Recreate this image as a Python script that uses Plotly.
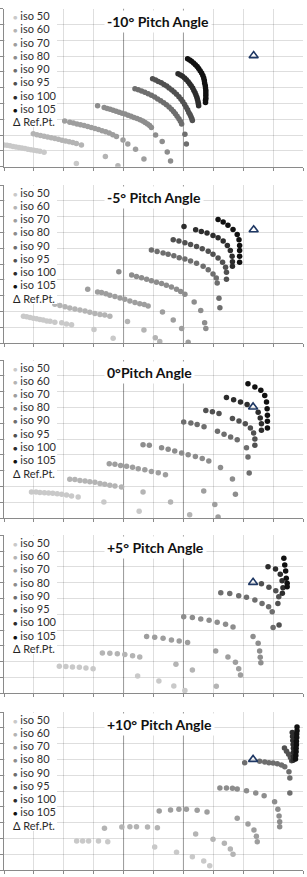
import plotly.graph_objects as go

# ---------------- chart values (grid units, 0..10 on both axes) ----------------
series_names = ["iso 50", "iso 60", "iso 70", "iso 80", "iso 90", "iso 95", "iso 100", "iso 105"]
panel_titles = ["-10° Pitch Angle", "-5° Pitch Angle", "0°Pitch Angle", "+5° Pitch Angle", "+10° Pitch Angle"]

# ---- -10° pitch ----
m10_iso50_x = [0.00, 0.10, 0.20, 0.30, 0.40, 0.50, 0.60, 0.70, 0.80, 0.90, 1.00, 1.10, 1.20, 1.34, 2.42]
m10_iso50_y = [1.38, 1.35, 1.32, 1.28, 1.25, 1.22, 1.18, 1.15, 1.11, 1.08, 1.04, 1.01, 0.97, 0.91, 0.21]
m10_iso60_x = [0.98, 1.10, 1.22, 1.34, 1.46, 1.58, 1.70, 1.82, 1.94, 2.06, 2.18, 2.30, 2.42, 2.59, 3.39, 3.81]
m10_iso60_y = [2.08, 2.03, 1.98, 1.93, 1.88, 1.83, 1.78, 1.73, 1.68, 1.63, 1.58, 1.53, 1.47, 1.38, 0.64, 0.06]
m10_iso70_x = [2.03, 2.20, 2.32, 2.44, 2.56, 2.68, 2.80, 2.92, 3.04, 3.16, 3.28, 3.40, 3.52, 3.64, 3.76, 3.98, 4.14, 4.40, 4.68]
m10_iso70_y = [2.90, 2.82, 2.77, 2.71, 2.65, 2.60, 2.54, 2.48, 2.42, 2.35, 2.28, 2.21, 2.13, 2.03, 1.91, 1.69, 1.44, 1.10, 0.49]
m10_iso80_x = [3.13, 3.35, 3.45, 3.55, 3.65, 3.75, 3.85, 3.95, 4.05, 4.15, 4.25, 4.35, 4.45, 4.55, 4.64, 4.72, 4.80, 4.87, 4.93, 5.07, 5.29, 5.46, 5.57]
m10_iso80_y = [3.86, 3.75, 3.69, 3.63, 3.57, 3.51, 3.45, 3.39, 3.33, 3.26, 3.19, 3.12, 3.05, 2.97, 2.89, 2.80, 2.70, 2.60, 2.48, 2.01, 1.59, 0.93, 0.36]
m10_iso90_x = [4.38, 4.49, 4.60, 4.71, 4.82, 4.93, 5.04, 5.14, 5.24, 5.34, 5.43, 5.52, 5.60, 5.67, 5.73, 5.79, 5.85, 5.90, 5.94, 6.05, 6.10]
m10_iso90_y = [4.94, 4.87, 4.79, 4.71, 4.62, 4.52, 4.41, 4.29, 4.17, 4.05, 3.92, 3.78, 3.64, 3.50, 3.35, 3.19, 3.03, 2.87, 2.71, 2.06, 1.44]
m10_iso95_x = [4.97, 5.07, 5.16, 5.26, 5.35, 5.44, 5.52, 5.61, 5.69, 5.77, 5.85, 5.92, 5.98, 6.04, 6.09, 6.14, 6.18, 6.22, 6.25, 6.28, 6.30]
m10_iso95_y = [5.57, 5.49, 5.40, 5.31, 5.21, 5.10, 4.98, 4.85, 4.72, 4.58, 4.43, 4.27, 4.11, 3.94, 3.77, 3.60, 3.43, 3.30, 3.18, 3.05, 2.92]
m10_iso100_x = [5.82, 5.90, 5.97, 6.04, 6.10, 6.16, 6.21, 6.26, 6.31, 6.35, 6.39, 6.42, 6.45, 6.47, 6.49, 6.50, 6.51]
m10_iso100_y = [5.89, 5.81, 5.72, 5.62, 5.51, 5.38, 5.25, 5.12, 4.98, 4.83, 4.68, 4.54, 4.39, 4.25, 4.11, 3.98, 3.86]
m10_iso105_x = [6.14, 6.21, 6.27, 6.34, 6.40, 6.46, 6.51, 6.56, 6.61, 6.65, 6.68, 6.70, 6.71, 6.73, 6.74, 6.75, 6.75, 6.75, 6.75, 6.74, 6.74]
m10_iso105_y = [6.84, 6.76, 6.67, 6.57, 6.46, 6.34, 6.21, 6.07, 5.93, 5.77, 5.61, 5.45, 5.30, 5.14, 4.98, 4.82, 4.66, 4.50, 4.34, 4.20, 4.07]

# ---- -5° pitch ----
m5_iso50_x = [0.65, 0.76, 0.87, 0.98, 1.09, 1.20, 1.31, 1.43, 1.54, 1.70, 1.93, 2.09, 2.26, 3.01, 3.65]
m5_iso50_y = [1.70, 1.66, 1.62, 1.57, 1.53, 1.49, 1.45, 1.40, 1.38, 1.32, 1.28, 1.21, 1.15, 0.85, 0.30]
m5_iso60_x = [1.70, 1.87, 2.04, 2.20, 2.37, 2.54, 2.71, 2.87, 3.04, 3.21, 3.37, 3.54, 4.13, 4.68, 5.06, 5.21]
m5_iso60_y = [2.45, 2.38, 2.30, 2.21, 2.15, 2.09, 2.02, 1.94, 1.87, 1.81, 1.77, 1.70, 1.36, 0.83, 0.34, 0.09]
m5_iso70_x = [2.80, 3.13, 3.26, 3.41, 3.54, 3.71, 3.88, 4.04, 4.21, 4.38, 4.54, 4.69, 4.82, 5.30, 5.66, 5.94, 6.16]
m5_iso70_y = [3.40, 3.23, 3.19, 3.11, 3.02, 2.94, 2.85, 2.77, 2.66, 2.57, 2.49, 2.43, 2.34, 1.96, 1.45, 0.91, 0.04]
m5_iso80_x = [3.84, 4.27, 4.43, 4.60, 4.77, 4.93, 5.10, 5.27, 5.43, 5.60, 5.77, 5.91, 6.05, 6.36, 6.58, 6.71, 6.75]
m5_iso80_y = [4.51, 4.30, 4.21, 4.13, 4.04, 3.94, 3.85, 3.77, 3.66, 3.55, 3.40, 3.26, 3.09, 2.60, 2.06, 1.28, 0.91]
m5_iso90_x = [4.93, 5.12, 5.32, 5.49, 5.68, 5.86, 6.05, 6.24, 6.44, 6.66, 6.83, 6.99, 7.10, 7.13, 7.19, 7.22]
m5_iso90_y = [5.89, 5.79, 5.70, 5.62, 5.53, 5.40, 5.32, 5.19, 5.04, 4.85, 4.64, 4.36, 4.11, 3.79, 2.83, 2.23]
m5_iso95_x = [5.66, 5.85, 6.05, 6.24, 6.44, 6.63, 6.83, 6.99, 7.16, 7.31, 7.41, 7.44, 7.44]
m5_iso95_y = [6.53, 6.45, 6.34, 6.23, 6.11, 5.96, 5.81, 5.62, 5.38, 5.11, 4.79, 4.47, 4.04]
m5_iso100_x = [6.02, 6.41, 6.60, 6.79, 6.99, 7.16, 7.33, 7.47, 7.57, 7.63, 7.64, 7.64]
m5_iso100_y = [7.38, 7.17, 7.06, 6.96, 6.81, 6.66, 6.45, 6.17, 5.85, 5.49, 5.15, 4.85]
m5_iso105_x = [7.16, 7.33, 7.49, 7.66, 7.80, 7.86, 7.88, 7.88, 7.88, 7.88]
m5_iso105_y = [7.81, 7.66, 7.45, 7.19, 6.87, 6.53, 6.17, 5.85, 5.49, 5.11]

# ---- 0° pitch ----
p0_iso50_x = [0.92, 1.07, 1.20, 1.35, 1.49, 1.63, 1.78, 1.93, 2.09, 2.26, 2.48, 3.34, 4.52]
p0_iso50_y = [1.65, 1.65, 1.62, 1.60, 1.58, 1.56, 1.54, 1.50, 1.46, 1.39, 1.33, 1.01, 0.42]
p0_iso60_x = [2.20, 2.37, 2.54, 2.71, 2.87, 3.04, 3.21, 3.37, 3.54, 3.71, 3.93, 4.65, 5.57, 6.21]
p0_iso60_y = [2.45, 2.43, 2.38, 2.34, 2.30, 2.26, 2.19, 2.13, 2.07, 2.03, 1.96, 1.65, 1.01, 0.21]
p0_iso70_x = [3.52, 3.71, 3.90, 4.10, 4.30, 4.49, 4.71, 4.93, 5.16, 5.40, 6.68, 7.05, 7.16]
p0_iso70_y = [3.44, 3.40, 3.33, 3.27, 3.21, 3.12, 3.06, 2.95, 2.87, 2.74, 1.71, 0.86, 0.06]
p0_iso80_x = [4.65, 4.86, 5.27, 5.49, 5.71, 5.94, 6.16, 6.40, 6.63, 6.85, 7.24, 7.64, 7.74]
p0_iso80_y = [4.64, 4.60, 4.45, 4.35, 4.24, 4.11, 4.01, 3.90, 3.76, 3.61, 3.19, 2.47, 1.50]
p0_iso90_x = [6.01, 6.25, 6.46, 6.69, 7.14, 7.36, 7.58, 7.80, 8.11, 8.16, 8.20]
p0_iso90_y = [6.08, 6.01, 5.91, 5.78, 5.49, 5.30, 5.13, 4.96, 4.45, 3.86, 2.85]
p0_iso95_x = [6.75, 6.97, 7.19, 7.64, 7.86, 8.07, 8.24, 8.35, 8.39, 8.39]
p0_iso95_y = [6.81, 6.73, 6.62, 6.29, 6.14, 5.97, 5.70, 5.38, 5.00, 4.60]
p0_iso100_x = [7.44, 7.68, 7.91, 8.13, 8.50, 8.57, 8.61, 8.61]
p0_iso100_y = [7.62, 7.49, 7.34, 7.19, 6.69, 6.33, 5.97, 5.55]
p0_iso105_x = [8.16, 8.39, 8.59, 8.72, 8.78, 8.80, 8.81, 8.81, 8.81]
p0_iso105_y = [8.50, 8.29, 8.08, 7.76, 7.34, 6.92, 6.50, 6.12, 5.70]

# ---- +5° pitch ----
p5_iso50_x = [1.85, 2.07, 2.29, 2.52, 2.74, 2.98, 4.47, 5.18, 5.68, 6.05]
p5_iso50_y = [1.71, 1.69, 1.67, 1.65, 1.60, 1.56, 1.10, 0.78, 0.46, 0.17]
p5_iso60_x = [3.29, 3.54, 3.79, 4.04, 4.30, 4.54, 5.75, 6.30, 7.10]
p5_iso60_y = [2.55, 2.53, 2.51, 2.45, 2.38, 2.30, 1.84, 1.48, 0.44]
p5_iso70_x = [4.77, 5.04, 5.32, 5.60, 5.86, 6.14, 7.08, 7.49, 7.74, 7.85, 7.91]
p5_iso70_y = [3.59, 3.54, 3.48, 3.38, 3.31, 3.21, 2.68, 2.30, 1.96, 1.56, 1.16]
p5_iso80_x = [6.01, 6.30, 6.58, 6.86, 7.13, 7.41, 7.66, 8.33, 8.50, 8.55, 8.57, 8.59]
p5_iso80_y = [4.85, 4.79, 4.70, 4.62, 4.49, 4.37, 4.20, 3.59, 3.16, 2.68, 2.28, 1.94]
p5_iso90_x = [7.25, 7.55, 7.85, 8.11, 8.39, 8.63, 8.85, 8.97, 9.00]
p5_iso90_y = [6.37, 6.31, 6.18, 6.08, 5.91, 5.69, 5.48, 5.16, 4.16]
p5_iso95_x = [8.61, 8.86, 9.09, 9.19, 9.16, 9.20]
p5_iso95_y = [6.94, 6.71, 6.49, 6.11, 5.69, 4.32]
p5_iso100_x = [8.83, 9.08, 9.24, 9.30, 9.33, 9.31]
p5_iso100_y = [8.01, 7.87, 7.53, 7.13, 6.68, 6.33]
p5_iso105_x = [9.36, 9.39, 9.42, 9.44, 9.47, 9.47]
p5_iso105_y = [8.54, 8.12, 7.74, 7.28, 6.96, 6.75]

# ---- +10° pitch ----
p10_iso50_x = [2.43, 2.63, 2.83, 3.16, 3.47, 5.04, 5.77, 6.30, 6.68, 6.88]
p10_iso50_y = [1.84, 1.84, 1.84, 1.84, 1.79, 1.46, 1.12, 0.84, 0.57, 0.27]
p10_iso60_x = [3.36, 3.94, 4.21, 4.43, 4.80, 5.13, 6.41, 6.99, 7.37, 7.57, 7.66]
p10_iso60_y = [2.64, 2.72, 2.74, 2.74, 2.72, 2.68, 2.28, 1.94, 1.69, 1.33, 0.99]
p10_iso70_x = [5.19, 5.57, 5.85, 6.10, 6.46, 6.79, 7.80, 8.16, 8.36, 8.44, 8.47]
p10_iso70_y = [3.73, 3.80, 3.84, 3.84, 3.78, 3.67, 3.27, 2.91, 2.53, 2.13, 1.79]
p10_iso80_x = [7.22, 7.44, 7.64, 7.80, 8.11, 8.42, 8.70, 9.05, 9.16, 9.20, 9.22, 9.22]
p10_iso80_y = [5.19, 5.19, 5.17, 5.13, 5.02, 4.87, 4.70, 4.32, 3.84, 3.42, 3.06, 2.74]
p10_iso90_x = [8.05, 8.55, 8.72, 8.86, 9.00, 9.14, 9.28, 9.39, 9.53, 9.56, 9.56]
p10_iso90_y = [6.79, 6.88, 6.84, 6.79, 6.77, 6.73, 6.65, 6.54, 6.22, 5.82, 4.87]
p10_iso95_x = [9.38, 9.45, 9.52, 9.58, 9.62]
p10_iso95_y = [7.72, 7.52, 7.32, 7.12, 6.92]
p10_iso100_x = [9.64, 9.65, 9.66, 9.67, 9.68, 9.68, 9.68, 9.67]
p10_iso100_y = [8.70, 8.45, 8.20, 7.95, 7.70, 7.45, 7.20, 6.95]
p10_iso105_x = [9.80, 9.80, 9.79, 9.79, 9.78, 9.78, 9.77, 9.77, 9.76, 9.75]
p10_iso105_y = [9.05, 8.82, 8.60, 8.38, 8.15, 7.92, 7.70, 7.48, 7.25, 7.02]

# reference point per panel
ref_x = [8.35, 8.35, 8.33, 8.33, 8.33]
ref_y = [7.03, 7.17, 7.03, 7.02, 7.00]

panel_series = [
    [(m10_iso50_x, m10_iso50_y), (m10_iso60_x, m10_iso60_y), (m10_iso70_x, m10_iso70_y), (m10_iso80_x, m10_iso80_y),
     (m10_iso90_x, m10_iso90_y), (m10_iso95_x, m10_iso95_y), (m10_iso100_x, m10_iso100_y), (m10_iso105_x, m10_iso105_y)],
    [(m5_iso50_x, m5_iso50_y), (m5_iso60_x, m5_iso60_y), (m5_iso70_x, m5_iso70_y), (m5_iso80_x, m5_iso80_y),
     (m5_iso90_x, m5_iso90_y), (m5_iso95_x, m5_iso95_y), (m5_iso100_x, m5_iso100_y), (m5_iso105_x, m5_iso105_y)],
    [(p0_iso50_x, p0_iso50_y), (p0_iso60_x, p0_iso60_y), (p0_iso70_x, p0_iso70_y), (p0_iso80_x, p0_iso80_y),
     (p0_iso90_x, p0_iso90_y), (p0_iso95_x, p0_iso95_y), (p0_iso100_x, p0_iso100_y), (p0_iso105_x, p0_iso105_y)],
    [(p5_iso50_x, p5_iso50_y), (p5_iso60_x, p5_iso60_y), (p5_iso70_x, p5_iso70_y), (p5_iso80_x, p5_iso80_y),
     (p5_iso90_x, p5_iso90_y), (p5_iso95_x, p5_iso95_y), (p5_iso100_x, p5_iso100_y), (p5_iso105_x, p5_iso105_y)],
    [(p10_iso50_x, p10_iso50_y), (p10_iso60_x, p10_iso60_y), (p10_iso70_x, p10_iso70_y), (p10_iso80_x, p10_iso80_y),
     (p10_iso90_x, p10_iso90_y), (p10_iso95_x, p10_iso95_y), (p10_iso100_x, p10_iso100_y), (p10_iso105_x, p10_iso105_y)],
]

# ---------------- styling / layout ----------------
W, H = 307, 877
series_colors = ["#c9c9c9", "#b4b4b4", "#9e9e9e", "#8d8d8d", "#6e6e6e", "#515151", "#2d2d2d", "#111111"]
ref_color = "#1f3864"
grid_color = "rgba(0,0,0,0.13)"
major_grid_color = "#b0b0b0"
axis_color = "#8a8a8a"
FONT = "Lato, 'Open Sans', sans-serif"

plot_bottom_px = [166.7, 343.0, 518.0, 693.3, 870.0]
plot_h_px = 158.0
x_left_px, x_right_px = 4.0, 303.0

fig = go.Figure()
layout = dict(
    width=W, height=H, autosize=False,
    margin=dict(l=0, r=0, t=0, b=0, pad=0),
    paper_bgcolor="white", plot_bgcolor="white",
    showlegend=False,
    shapes=[], annotations=[],
)

for p in range(5):
    sfx = "" if p == 0 else str(p + 1)
    xa, ya = "x" + sfx, "y" + sfx
    bottom = plot_bottom_px[p]
    top = bottom - plot_h_px

    for s in range(8):
        xs, ys = panel_series[p][s]
        fig.add_trace(go.Scatter(
            x=xs, y=ys, mode="markers", xaxis=xa, yaxis=ya, name=series_names[s],
            marker=dict(size=5.5, color=series_colors[s], line=dict(width=0)),
            hoverinfo="skip"))
    fig.add_trace(go.Scatter(
        x=[ref_x[p]], y=[ref_y[p]], mode="markers", xaxis=xa, yaxis=ya, name="Ref.Pt.",
        marker=dict(symbol="triangle-up-open", size=8, color=ref_color, line=dict(width=1.6, color=ref_color)),
        hoverinfo="skip"))

    common = dict(range=[0, 10], tick0=0, dtick=1, showgrid=True, gridcolor=grid_color, gridwidth=1,
                  showline=True, linecolor=axis_color, linewidth=1, ticks="outside", ticklen=3,
                  tickcolor=axis_color, tickwidth=1, showticklabels=False, zeroline=False, fixedrange=True)
    layout["xaxis" + sfx] = dict(common, domain=[x_left_px / W, x_right_px / W], anchor=ya)
    layout["yaxis" + sfx] = dict(common, domain=[1 - bottom / H, 1 - top / H], anchor=xa)

    # darker vertical grid lines (drawn below the translucent regular grid)
    for gx in (4, 6):
        layout["shapes"].append(dict(type="line", xref=xa, yref="paper", x0=gx, x1=gx,
                                     y0=1 - bottom / H, y1=1 - top / H,
                                     line=dict(color=major_grid_color, width=1), layer="below"))
    # legend background box (blank annotation)
    layout["annotations"].append(dict(
        xref="paper", yref="paper", x=5.2 / W, y=1 - (top + 0.6) / H, xanchor="left", yanchor="top",
        text=" ", showarrow=False, bgcolor="white", width=52, height=118, borderpad=0, borderwidth=0))
    # legend entries
    for i in range(9):
        ypx = top + 7.0 + i * 13.25
        if i < 8:
            txt = ('<span style="color:%s;font-size:7.5px">●</span> %s' % (series_colors[i], series_names[i]))
        else:
            txt = '<span style="color:#222">Δ</span> Ref.Pt.'
        layout["annotations"].append(dict(
            xref="paper", yref="paper", x=12.3 / W, y=1 - ypx / H, xanchor="left", yanchor="middle",
            text=txt, showarrow=False, font=dict(family=FONT, size=11, color="#2e2e2e"), borderpad=0))
    # title
    layout["annotations"].append(dict(
        xref="paper", yref="paper", x=104 / W, y=1 - (top + 12.5) / H, xanchor="left", yanchor="middle",
        text="<b>%s</b>" % panel_titles[p], showarrow=False, bgcolor="white", borderpad=2,
        font=dict(family=FONT, size=14, color="#111111")))

fig.update_layout(**layout)
fig.write_html("out.html")
